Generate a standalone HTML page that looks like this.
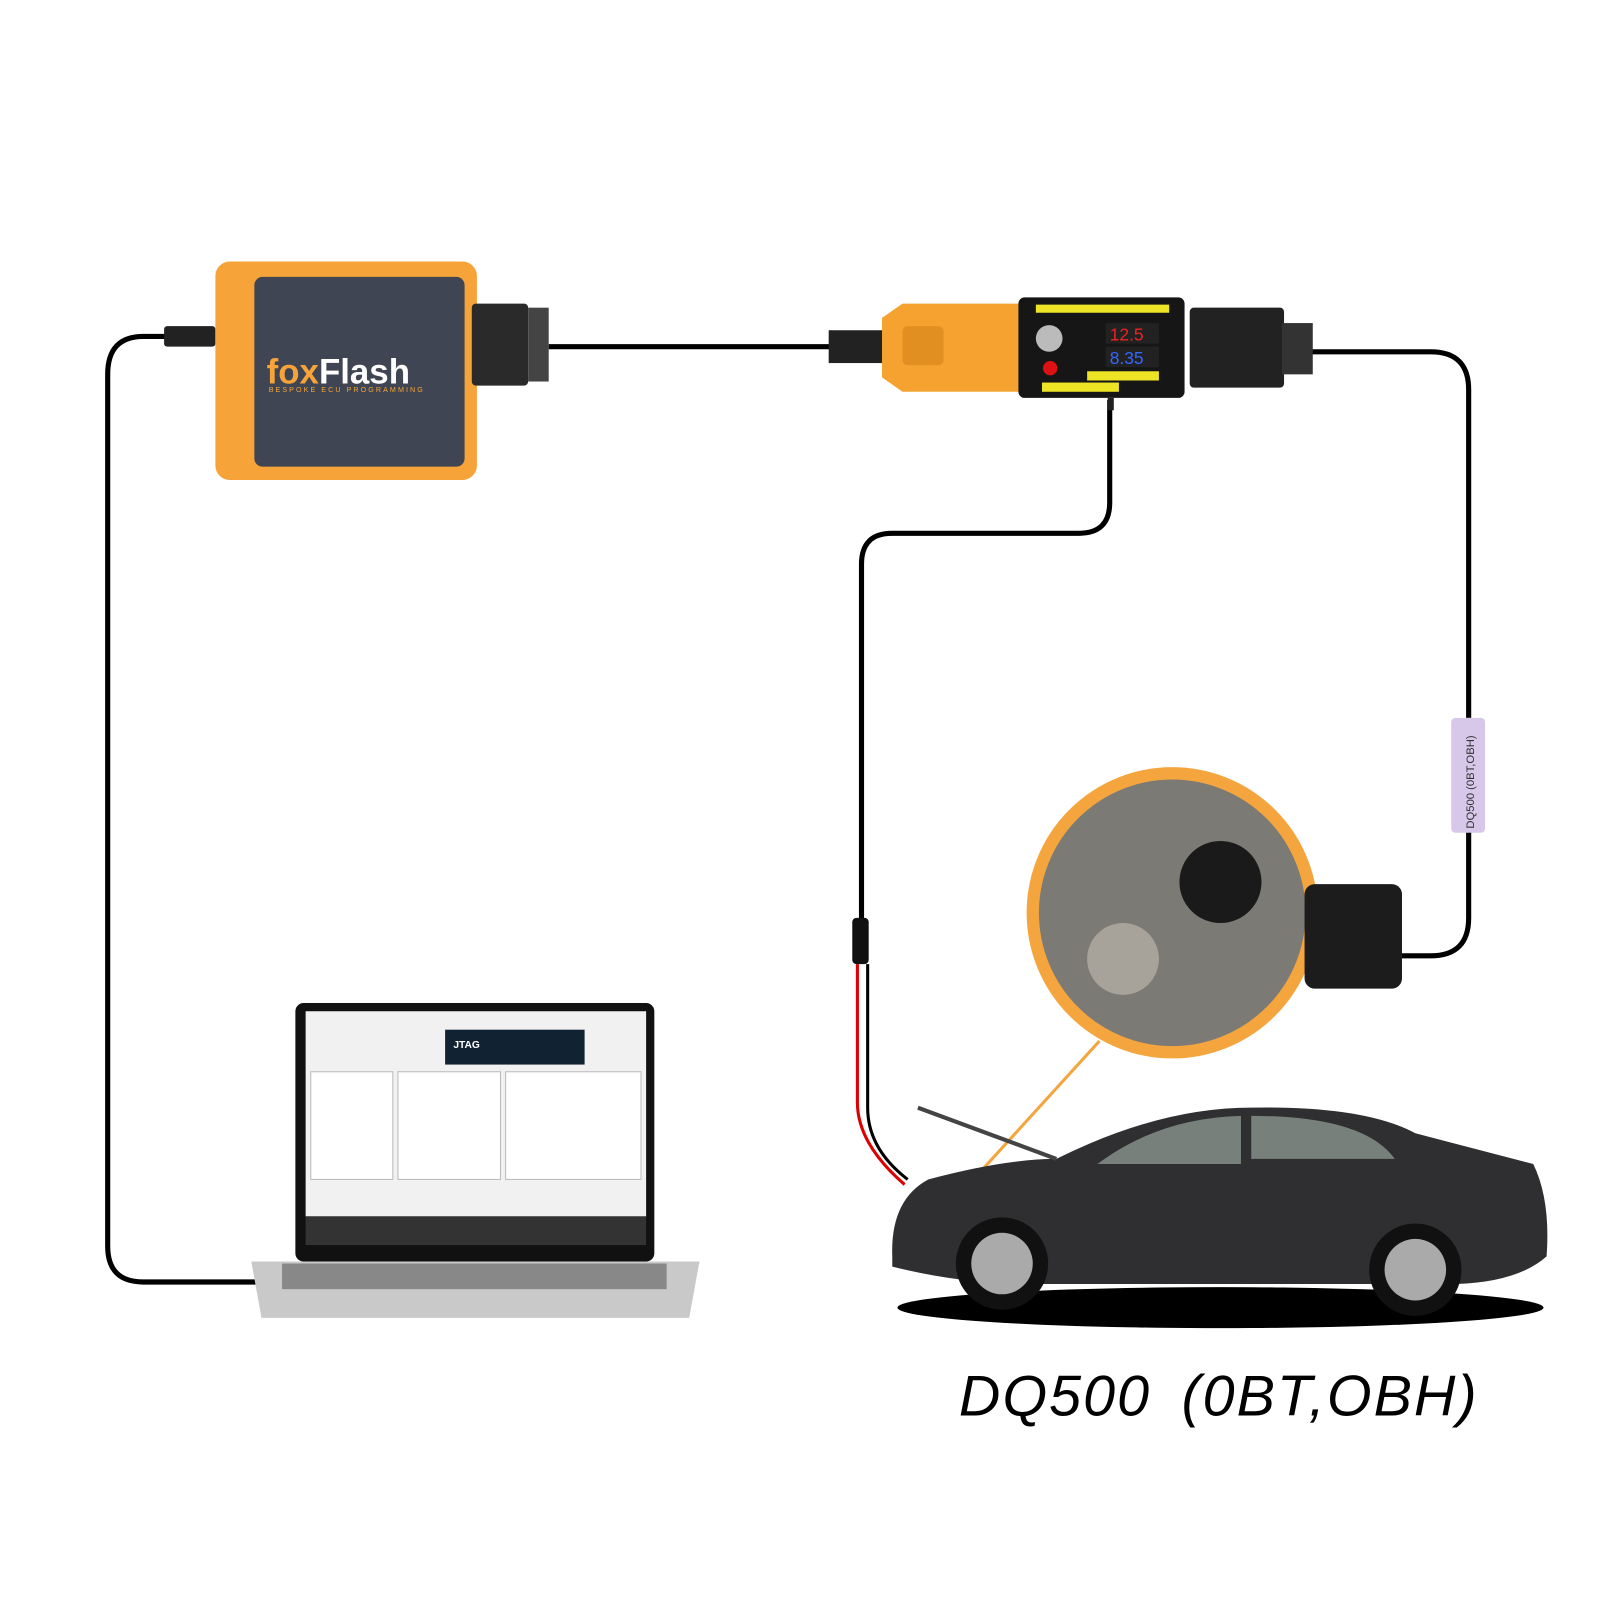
<!DOCTYPE html>
<html><head><style>html,body{margin:0;padding:0;background:#fff}svg{display:block}</style></head>
<body>
<svg width="1600" height="1600" viewBox="0 0 1600 1600" xmlns="http://www.w3.org/2000/svg" font-family="Liberation Sans, sans-serif">
<rect width="1600" height="1600" fill="#fff"/>
<g transform="scale(1.0256)">
<g fill="none" stroke="#000" stroke-width="5">
<path d="M170 328 H140 Q105 328 105 365 V1215 Q105 1250 140 1250 H285"/>
<path d="M535 338 H815"/>
<path d="M1278 343 H1395 Q1432 343 1432 380 V700"/>
<path d="M1432 810 V895 Q1432 932 1395 932 H1365"/>
<path d="M1082 390 V490 Q1082 520 1052 520 H870 Q840 520 840 550 V900"/>
<path d="M846 940 V1080 Q846 1120 885 1150" stroke-width="3"/>
</g>
<path d="M836 940 V1075 Q836 1115 882 1155" stroke="#d00" stroke-width="3" fill="none"/>
<rect x="831" y="895" width="16" height="45" rx="4" fill="#111"/>
<rect x="160" y="318" width="50" height="20" rx="3" fill="#222"/>
<rect x="210" y="255" width="255" height="213" rx="14" fill="#f6a43a"/>
<rect x="248" y="270" width="205" height="185" rx="8" fill="#3f4552"/>
<text x="260" y="374" font-size="34" font-weight="bold" fill="#f6a43a">fox<tspan fill="#fff">Flash</tspan></text>
<text x="262" y="382" font-size="7" fill="#f6a43a" letter-spacing="2">BESPOKE ECU PROGRAMMING</text>
<rect x="460" y="296" width="55" height="80" rx="4" fill="#2a2a2a"/>
<rect x="515" y="300" width="20" height="72" fill="#444"/>
<rect x="808" y="322" width="55" height="32" fill="#222"/>
<path d="M860 310 L880 296 H995 V382 H880 L860 368 Z" fill="#f5a231"/>
<rect x="880" y="318" width="40" height="38" rx="5" fill="#e08f20"/>
<rect x="993" y="290" width="162" height="98" rx="6" fill="#161616"/>
<path d="M1010 297 H1140 V305 H1010 Z" fill="#ece424"/>
<circle cx="1023" cy="330" r="13" fill="#bbb"/>
<circle cx="1024" cy="359" r="7" fill="#d11"/>
<rect x="1078" y="315" width="52" height="20" fill="#222"/>
<text x="1082" y="332" font-size="17" fill="#e22">12.5</text>
<rect x="1078" y="338" width="52" height="20" fill="#222"/>
<text x="1082" y="355" font-size="17" fill="#36f">8.35</text>
<rect x="1060" y="362" width="70" height="9" fill="#ece424"/>
<rect x="1016" y="373" width="75" height="9" fill="#ece424"/>
<rect x="1080" y="388" width="6" height="12" fill="#222"/>
<rect x="1160" y="300" width="92" height="78" rx="4" fill="#222"/>
<rect x="1250" y="315" width="30" height="50" fill="#333"/>
<rect x="1415" y="700" width="33" height="112" rx="4" fill="#d7c8ea"/>
<text transform="translate(1437 808) rotate(-90)" font-size="11" fill="#333">DQ500 (0BT,OBH)</text>
<circle cx="1143" cy="890" r="136" fill="#7c7a75" stroke="#f4a53e" stroke-width="12"/>
<circle cx="1095" cy="935" r="35" fill="#a8a39a"/>
<circle cx="1190" cy="860" r="40" fill="#1a1a1a"/>
<rect x="1272" y="862" width="95" height="102" rx="10" fill="#1c1c1c"/>
<line x1="1072" y1="1015" x2="940" y2="1160" stroke="#f4a53e" stroke-width="3"/>
<circle cx="940" cy="1160" r="11" fill="#f4a53e"/>
<rect x="288" y="978" width="350" height="252" rx="8" fill="#111"/>
<rect x="298" y="986" width="332" height="200" fill="#f1f1f1"/>
<rect x="434" y="1004" width="136" height="34" fill="#123"/>
<text x="442" y="1022" font-size="10" fill="#fff" font-weight="bold">JTAG</text>
<rect x="303" y="1045" width="80" height="105" fill="#fff" stroke="#bbb"/>
<rect x="388" y="1045" width="100" height="105" fill="#fff" stroke="#bbb"/>
<rect x="493" y="1045" width="132" height="105" fill="#fff" stroke="#bbb"/>
<rect x="298" y="1186" width="332" height="28" fill="#333"/>
<path d="M245 1230 H682 L672 1285 H255 Z" fill="#c9c9c9"/>
<rect x="275" y="1232" width="375" height="25" fill="#888"/>
<ellipse cx="1190" cy="1275" rx="315" ry="20" fill="#000"/>
<path d="M870 1225 Q868 1170 905 1150 Q980 1130 1030 1130 Q1130 1080 1220 1080 Q1330 1078 1380 1105 L1495 1135 Q1512 1170 1508 1225 Q1480 1250 1420 1252 H990 Q930 1250 870 1235 Z" fill="#2f2f31"/>
<path d="M1070 1135 Q1130 1090 1210 1088 V1135 Z" fill="#77807a"/>
<path d="M1220 1088 Q1330 1088 1360 1130 H1220 Z" fill="#77807a"/>
<path d="M895 1080 L1030 1130" stroke="#444" stroke-width="4"/>
<circle cx="977" cy="1232" r="45" fill="#111"/><circle cx="977" cy="1232" r="30" fill="#aaa"/>
<circle cx="1380" cy="1238" r="45" fill="#111"/><circle cx="1380" cy="1238" r="30" fill="#aaa"/>
<text x="935" y="1380" font-size="56" font-style="italic" fill="#000" letter-spacing="2">DQ500<tspan x="1152">(0BT,OBH)</tspan></text>
</g>
</svg>
</body></html>
